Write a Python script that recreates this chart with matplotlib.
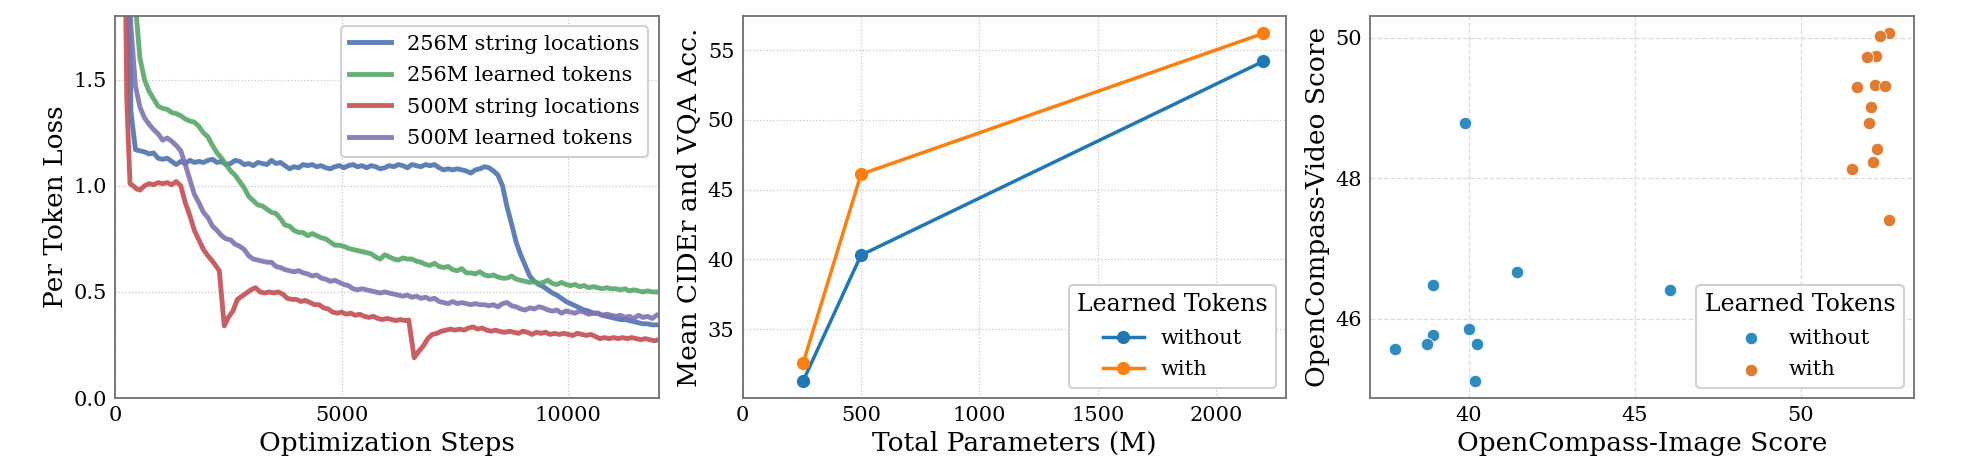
import matplotlib
matplotlib.use("Agg")
import matplotlib.pyplot as plt
import numpy as np

# ---- panel 1: training loss curves ----
steps = np.arange(150, 12001, 100)

loss_256m_string = [
    3.0, 2.8, 1.35, 1.17, 1.165, 1.16, 1.15, 1.155, 1.13, 1.125,
    1.13, 1.115, 1.10, 1.115, 1.105, 1.12, 1.11, 1.115, 1.11, 1.12,
    1.125, 1.11, 1.115, 1.10, 1.105, 1.12, 1.115, 1.10, 1.105, 1.095,
    1.11, 1.105, 1.10, 1.12, 1.105, 1.11, 1.095, 1.08, 1.09, 1.085,
    1.10, 1.095, 1.10, 1.09, 1.095, 1.085, 1.08, 1.09, 1.095, 1.085,
    1.095, 1.10, 1.09, 1.095, 1.085, 1.095, 1.09, 1.08, 1.085, 1.095,
    1.09, 1.10, 1.095, 1.085, 1.10, 1.095, 1.09, 1.10, 1.095, 1.10,
    1.085, 1.075, 1.08, 1.075, 1.08, 1.075, 1.07, 1.06, 1.075, 1.08,
    1.09, 1.085, 1.07, 1.05, 1.00, 0.90, 0.82, 0.735, 0.675, 0.625,
    0.575, 0.55, 0.535, 0.525, 0.51, 0.495, 0.485, 0.47, 0.455, 0.445,
    0.435, 0.425, 0.415, 0.41, 0.40, 0.40, 0.39, 0.385, 0.38, 0.375,
    0.37, 0.37, 0.365, 0.36, 0.355, 0.35, 0.35, 0.345, 0.345,
]

loss_256m_learned = [
    3.0, 3.0, 2.4, 1.85, 1.60, 1.50, 1.445, 1.41, 1.375, 1.365,
    1.36, 1.345, 1.34, 1.33, 1.315, 1.305, 1.30, 1.28, 1.25, 1.23,
    1.19, 1.155, 1.13, 1.10, 1.07, 1.05, 1.02, 0.99, 0.95, 0.93,
    0.91, 0.905, 0.89, 0.875, 0.87, 0.845, 0.815, 0.81, 0.79, 0.78,
    0.78, 0.765, 0.775, 0.765, 0.755, 0.75, 0.735, 0.72, 0.72, 0.715,
    0.705, 0.70, 0.695, 0.69, 0.685, 0.68, 0.665, 0.655, 0.675, 0.665,
    0.655, 0.65, 0.66, 0.655, 0.655, 0.645, 0.64, 0.63, 0.625, 0.635,
    0.62, 0.615, 0.62, 0.605, 0.60, 0.61, 0.59, 0.59, 0.585, 0.595,
    0.58, 0.575, 0.58, 0.57, 0.565, 0.565, 0.575, 0.56, 0.555, 0.55,
    0.545, 0.55, 0.54, 0.545, 0.555, 0.54, 0.535, 0.545, 0.535, 0.53,
    0.535, 0.525, 0.53, 0.52, 0.525, 0.52, 0.515, 0.52, 0.515, 0.515,
    0.51, 0.515, 0.505, 0.51, 0.505, 0.50, 0.505, 0.50, 0.50,
]

loss_500m_learned = [
    3.0, 2.3, 1.75, 1.47, 1.37, 1.32, 1.29, 1.265, 1.245, 1.215,
    1.225, 1.21, 1.19, 1.165, 1.10, 1.03, 0.96, 0.92, 0.875, 0.85,
    0.81, 0.79, 0.765, 0.75, 0.745, 0.725, 0.715, 0.70, 0.67, 0.655,
    0.65, 0.645, 0.64, 0.64, 0.62, 0.615, 0.605, 0.60, 0.595, 0.60,
    0.59, 0.585, 0.575, 0.58, 0.565, 0.56, 0.55, 0.555, 0.545, 0.535,
    0.53, 0.515, 0.51, 0.515, 0.51, 0.505, 0.50, 0.495, 0.50, 0.495,
    0.49, 0.485, 0.48, 0.485, 0.475, 0.48, 0.47, 0.475, 0.465, 0.47,
    0.455, 0.45, 0.445, 0.455, 0.445, 0.45, 0.445, 0.44, 0.445, 0.44,
    0.44, 0.435, 0.44, 0.43, 0.445, 0.45, 0.435, 0.43, 0.42, 0.415,
    0.425, 0.42, 0.43, 0.425, 0.415, 0.41, 0.415, 0.40, 0.41, 0.405,
    0.40, 0.41, 0.405, 0.395, 0.40, 0.40, 0.39, 0.395, 0.39, 0.385,
    0.39, 0.38, 0.385, 0.375, 0.39, 0.38, 0.385, 0.375, 0.39,
]

# the 500M string-locations run has sharp dips, so it keeps its own steps
steps_500m_string = [
    150, 215, 260, 330, 400, 480, 550, 650, 750, 850, 950, 1050, 1150, 1250,
    1350, 1450, 1550, 1650, 1750, 1850, 1950, 2050, 2150, 2250, 2300, 2410,
    2500, 2600, 2700, 2800, 2900, 3000, 3100, 3200, 3300, 3400, 3500, 3600,
    3700, 3800, 3900, 4000, 4100, 4200, 4300, 4400, 4500, 4600, 4700, 4800,
    4900, 5000, 5100, 5200, 5300, 5400, 5500, 5600, 5700, 5800, 5900, 6000,
    6100, 6200, 6300, 6400, 6480, 6600, 6700, 6800, 6900, 7000, 7100, 7200,
    7300, 7400, 7500, 7600, 7700, 7800, 7900, 8000, 8100, 8200, 8300, 8400,
    8500, 8600, 8700, 8800, 8900, 9000, 9100, 9200, 9300, 9400, 9500, 9600,
    9700, 9800, 9900, 10000, 10100, 10200, 10300, 10400, 10500, 10600, 10700,
    10800, 10900, 11000, 11100, 11200, 11300, 11400, 11500, 11600, 11700,
    11800, 11900, 12000,
]
loss_500m_string = [
    3.0, 2.2, 1.4, 1.01, 1.0, 0.985, 0.98, 1.0, 1.01, 1.005, 1.015, 1.01, 1.015, 1.005,
    1.02, 1.0, 0.92, 0.86, 0.79, 0.745, 0.70, 0.67, 0.645, 0.615, 0.60, 0.34,
    0.38, 0.41, 0.465, 0.48, 0.495, 0.51, 0.52, 0.50, 0.495, 0.50, 0.495, 0.50,
    0.49, 0.47, 0.465, 0.465, 0.455, 0.46, 0.45, 0.44, 0.44, 0.425, 0.42, 0.405,
    0.40, 0.405, 0.395, 0.40, 0.39, 0.395, 0.385, 0.38, 0.385, 0.375, 0.37, 0.375,
    0.37, 0.365, 0.37, 0.365, 0.368, 0.19, 0.22, 0.245, 0.28, 0.30, 0.305, 0.315,
    0.32, 0.325, 0.32, 0.325, 0.32, 0.33, 0.335, 0.325, 0.33, 0.32, 0.315, 0.32,
    0.313, 0.31, 0.315, 0.31, 0.305, 0.315, 0.31, 0.30, 0.31, 0.305, 0.31, 0.30,
    0.305, 0.30, 0.305, 0.30, 0.295, 0.305, 0.30, 0.295, 0.30, 0.29, 0.28,
    0.285, 0.28, 0.285, 0.28, 0.285, 0.28, 0.285, 0.28, 0.275, 0.28,
    0.275, 0.27, 0.275,
]

# ---- panel 2: model size vs. score ----
params_m = [256, 500, 2200]
score_without = [31.3, 40.3, 54.2]
score_with = [32.6, 46.1, 56.2]

# ---- panel 3: image vs. video score ----
img_without = [39.87, 41.46, 38.93, 46.06, 40.01, 38.93, 38.75, 37.77, 40.25, 40.17]
vid_without = [48.79, 46.67, 46.48, 46.41, 45.85, 45.77, 45.64, 45.57, 45.64, 45.12]
img_with = [52.66, 52.39, 52.26, 51.99, 51.69, 52.25, 52.55, 52.13, 52.05, 52.31, 52.18, 51.54, 52.67]
vid_with = [50.06, 50.02, 49.74, 49.72, 49.30, 49.33, 49.31, 49.01, 48.79, 48.42, 48.23, 48.13, 47.41]

plt.rcParams['font.family'] = 'DejaVu Serif'
plt.rcParams['font.size'] = 15
plt.rcParams['axes.edgecolor'] = '#707070'
plt.rcParams['axes.linewidth'] = 1.3
plt.rcParams['xtick.major.size'] = 0
plt.rcParams['ytick.major.size'] = 0
plt.rcParams['xtick.major.pad'] = 6
plt.rcParams['ytick.major.pad'] = 6
plt.rcParams['xtick.labelsize'] = 15
plt.rcParams['ytick.labelsize'] = 15
plt.rcParams['legend.fontsize'] = 15
plt.rcParams['legend.title_fontsize'] = 17
plt.rcParams['legend.labelspacing'] = 0.6

LABEL_SIZE = 19

fig, axes = plt.subplots(1, 3, figsize=(19.7, 4.7), dpi=100)
fig.subplots_adjust(left=0.0584, right=0.9716, bottom=0.153, top=0.966, wspace=0.154)

# panel 1
ax = axes[0]
ax.plot(steps, loss_256m_string, color='#4C72B0', lw=3.5, alpha=0.9, label='256M string locations')
ax.plot(steps, loss_256m_learned, color='#55A868', lw=3.5, alpha=0.9, label='256M learned tokens')
ax.plot(steps_500m_string, loss_500m_string, color='#C44E52', lw=3.5, alpha=0.9, label='500M string locations')
ax.plot(steps, loss_500m_learned, color='#8172B2', lw=3.5, alpha=0.9, label='500M learned tokens')
ax.set_xlim(0, 12000)
ax.set_ylim(0, 1.8)
ax.set_xticks([0, 5000, 10000])
ax.set_yticks([0.0, 0.5, 1.0, 1.5])
ax.set_xlabel('Optimization Steps', fontsize=LABEL_SIZE)
ax.set_ylabel('Per Token Loss', fontsize=LABEL_SIZE)
ax.grid(True, linestyle=':', color='#c8c8c8', lw=0.9)
leg = ax.legend(loc='upper right', framealpha=0.9, edgecolor='#cccccc',
                fancybox=True, handlelength=2.0)
leg.get_frame().set_linewidth(1.5)

# panel 2
ax = axes[1]
ax.plot(params_m, score_without, color='#1f77b4', lw=2.5, marker='o', ms=8.5, label='without')
ax.plot(params_m, score_with, color='#ff7f0e', lw=2.5, marker='o', ms=8.5, label='with')
ax.set_xlim(left=0)
ax.set_xticks([0, 500, 1000, 1500, 2000])
ax.set_yticks([35, 40, 45, 50, 55])
ax.set_xlabel('Total Parameters (M)', fontsize=LABEL_SIZE)
ax.set_ylabel('Mean CIDEr and VQA Acc.', fontsize=LABEL_SIZE)
ax.grid(True, linestyle=':', color='#c8c8c8', lw=0.9)
leg = ax.legend(loc='lower right', title='Learned Tokens', framealpha=0.9,
                edgecolor='#cccccc', fancybox=True)
leg.get_frame().set_linewidth(1.5)

# panel 3
ax = axes[2]
ax.scatter(img_without, vid_without, s=80, color='#2e8bc0', edgecolor='white', lw=0.6, label='without', zorder=3)
ax.scatter(img_with, vid_with, s=80, color='#e07b30', edgecolor='white', lw=0.6, label='with', zorder=3)
ax.set_xticks([40, 45, 50])
ax.set_yticks([46, 48, 50])
ax.set_xlabel('OpenCompass-Image Score', fontsize=LABEL_SIZE)
ax.set_ylabel('OpenCompass-Video Score', fontsize=LABEL_SIZE)
ax.grid(True, linestyle='--', color='#dcdcdc', lw=0.9)
leg = ax.legend(loc='lower right', title='Learned Tokens', framealpha=0.9,
                edgecolor='#cccccc', fancybox=True)
leg.get_frame().set_linewidth(1.5)

for a in axes:
    a.set_axisbelow(True)
    for s in a.spines.values():
        s.set_color('#707070')

plt.savefig('out.png', dpi=100, facecolor='white')
plt.close()
